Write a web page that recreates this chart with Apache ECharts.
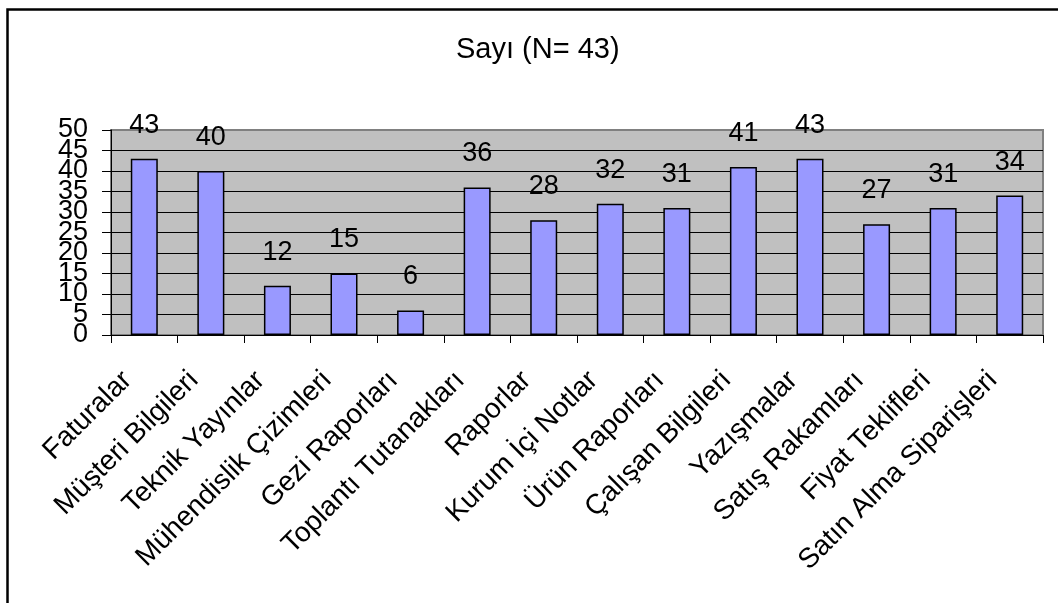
<!DOCTYPE html>
<html>
<head>
<meta charset="utf-8">
<script src="https://cdn.jsdelivr.net/npm/echarts@6/dist/echarts.min.js"></script>
<style>
  html, body { margin: 0; padding: 0; background: #fff; }
  #chart { width: 1058px; height: 603px; }
</style>
</head>
<body>
<div id="chart"></div>
<script>
// kategori ve değerler
var categories = ['Faturalar', 'Müşteri Bilgileri', 'Teknik Yayınlar', 'Mühendislik Çizimleri',
  'Gezi Raporları', 'Toplantı Tutanakları', 'Raporlar', 'Kurum İçi Notlar', 'Ürün Raporları',
  'Çalışan Bilgileri', 'Yazışmalar', 'Satış Rakamları', 'Fiyat Teklifleri', 'Satın Alma Siparişleri'];
var counts = [43, 40, 12, 15, 6, 36, 28, 32, 31, 41, 43, 27, 31, 34];
var titleText = 'Sayı (N= 43)';

var font = 'Liberation Sans, Arial, sans-serif';

// etiketler çok sıkışık: onlar ve beşler iki ayrı eksende
function yAxisDef(main, rest) {
  return {
    type: 'value',
    min: 0,
    max: 50,
    interval: 5,
    position: 'left',
    axisLine: { show: main, lineStyle: { color: '#000', width: 1 } },
    axisTick: { show: main, length: 9, lineStyle: { color: '#000' } },
    axisLabel: {
      margin: 23,
      showMinLabel: true,
      showMaxLabel: true,
      fontFamily: font,
      fontSize: 27,
      color: '#000',
      formatter: function (v) { return v % 10 === rest ? String(v) : ''; }
    },
    splitLine: { show: main, showMaxLine: false, lineStyle: { color: '#000', width: 1 } }
  };
}

var chart = echarts.init(document.getElementById('chart'));
chart.setOption({
  backgroundColor: '#fff',
  animation: false,
  title: {
    text: titleText,
    left: 451,
    top: 30,
    textStyle: { fontFamily: font, fontSize: 29, fontWeight: 'normal', color: '#000' }
  },
  // dış çerçeve
  graphic: [{
    type: 'rect',
    shape: { x: 7.5, y: 9.5, width: 2000, height: 2000 },
    style: { fill: 'none', stroke: '#000', lineWidth: 2.5 },
    silent: true
  }],
  grid: {
    left: 111,
    right: 15,
    top: 130,
    bottom: 268,
    show: true,
    backgroundColor: '#c0c0c0',
    borderColor: '#808080',
    borderWidth: 2
  },
  xAxis: {
    type: 'category',
    data: categories,
    axisLine: { lineStyle: { color: '#000', width: 1 } },
    axisTick: { show: true, length: 8, alignWithLabel: false, lineStyle: { color: '#000' } },
    axisLabel: {
      interval: 0,
      rotate: 45,
      margin: 24,
      padding: [0, 24, 0, 0],
      fontFamily: font,
      fontSize: 28,
      color: '#000'
    }
  },
  yAxis: [yAxisDef(true, 0), yAxisDef(false, 5)],
  series: [{
    type: 'bar',
    data: counts,
    yAxisIndex: 0,
    barWidth: 27,
    itemStyle: { color: '#9999ff', borderColor: '#000', borderWidth: 1.5 },
    label: {
      show: true,
      position: 'top',
      distance: 20,
      fontFamily: font,
      fontSize: 27,
      color: '#000'
    }
  }]
});
</script>
</body>
</html>
